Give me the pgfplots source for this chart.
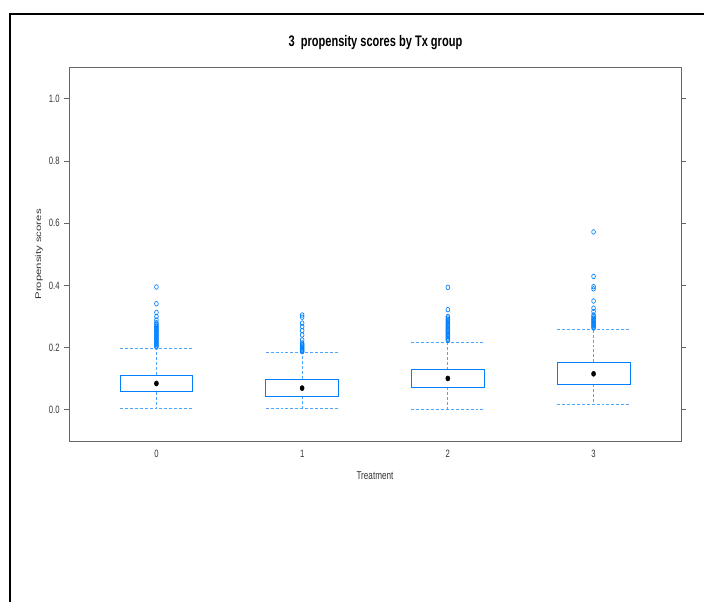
\documentclass[border=0pt]{standalone}
\usepackage{fontspec}
\setmainfont{Liberation Sans}[FakeStretch=0.72]
\newfontfamily\ylfont{Liberation Sans}
\usepackage{pgfplots}
\pgfplotsset{compat=1.18}
\usepgfplotslibrary{statistics}
\definecolor{boxblue}{HTML}{0080FF}
\definecolor{whisk}{HTML}{4DA6FF}
\definecolor{axgray}{HTML}{666666}
\definecolor{labgray}{HTML}{333333}

\begin{document}
\begin{tikzpicture}
\path[use as bounding box] (0,0) rectangle (528pt,-450.75pt);
% outer frame (only left and top edges are visible)
\draw[line width=2pt] (7.5pt,-460pt) -- (7.5pt,-10.5pt) -- (540pt,-10.5pt);
\node[anchor=base,font=\bfseries\fontsize{11.5}{13}\selectfont] at (281.6pt,-34.5pt) {3\ \ propensity scores by Tx group};

\begin{axis}[
  at={(51.75pt,-330.75pt)},anchor=south west,
  scale only axis,width=459pt,height=280pt,
  xmin=-0.6,xmax=3.6,ymin=-0.1,ymax=1.1,
  xtick={0,1,2,3},xticklabels={0,1,2,3},
  ytick={0,0.2,0.4,0.6,0.8,1.0},yticklabels={0.0,0.2,0.4,0.6,0.8,1.0},
  xtick style={draw=none},
  ytick pos=both,yticklabel pos=left,
  tick align=outside,major tick length=3.5pt,
  ytick style={axgray,line width=0.6pt},
  axis line style={axgray,line width=0.75pt},
  tick label style={font=\fontsize{8}{9}\selectfont,color=labgray},
  /pgf/number format/assume math mode=true,
  xticklabel style={anchor=base,yshift=-8.5pt},
  xlabel={Treatment},
  ylabel={\scalebox{1}[0.72]{\ylfont Propensity scores}},
  label style={font=\fontsize{8.5}{10}\selectfont,color=labgray},
  xlabel style={at={(axis description cs:0.5,-0.102)},anchor=base},
  ylabel style={at={(axis description cs:-0.049,0.5)},anchor=center},
  clip=false,
  boxplot/draw direction=y,
  boxplot/every box/.style={draw=boxblue,line width=0.7pt},
  boxplot/every whisker/.style={color=whisk,line width=0.6pt,dash pattern=on 2.2pt off 1.5pt},
  boxplot/every median/.style={draw=none},
  outl/.style={draw=boxblue,mark=o,mark size=1.75pt,
    mark options={xscale=0.8,line width=0.5pt,draw=boxblue}},
]
\addplot[outl,
  boxplot prepared={draw position=0,lower whisker=0.004,lower quartile=0.058,median=0.085,
    upper quartile=0.112,upper whisker=0.197,box extend=0.5,whisker extend=0.5}]
  coordinates {(0,0.395) (0,0.341) (0,0.313) (0,0.300) (0,0.289) (0,0.280) (0,0.275) (0,0.270)
    (0,0.266) (0,0.262) (0,0.258) (0,0.254) (0,0.250) (0,0.246) (0,0.242) (0,0.238) (0,0.234)
    (0,0.230) (0,0.226) (0,0.222) (0,0.218) (0,0.214) (0,0.210) (0,0.206) (0,0.202)};
\addplot[outl,
  boxplot prepared={draw position=1,lower whisker=0.006,lower quartile=0.043,median=0.070,
    upper quartile=0.099,upper whisker=0.184,box extend=0.5,whisker extend=0.5}]
  coordinates {(1,0.305) (1,0.298) (1,0.279) (1,0.268) (1,0.255) (1,0.241) (1,0.225)
    (1,0.215) (1,0.211) (1,0.208) (1,0.205) (1,0.202) (1,0.199) (1,0.196) (1,0.193)
    (1,0.190) (1,0.187)};
\addplot[outl,
  boxplot prepared={draw position=2,lower whisker=0.003,lower quartile=0.073,median=0.101,
    upper quartile=0.130,upper whisker=0.218,box extend=0.5,whisker extend=0.5}]
  coordinates {(2,0.394) (2,0.322) (2,0.300) (2,0.295) (2,0.291) (2,0.287) (2,0.283)
    (2,0.279) (2,0.275) (2,0.271) (2,0.267) (2,0.263) (2,0.259) (2,0.255) (2,0.251)
    (2,0.247) (2,0.243) (2,0.239) (2,0.235) (2,0.231) (2,0.227) (2,0.223)};
\addplot[outl,
  boxplot prepared={draw position=3,lower whisker=0.017,lower quartile=0.083,median=0.116,
    upper quartile=0.153,upper whisker=0.260,box extend=0.5,whisker extend=0.5}]
  coordinates {(3,0.572) (3,0.429) (3,0.396) (3,0.389) (3,0.350) (3,0.327) (3,0.316)
    (3,0.305) (3,0.300) (3,0.295) (3,0.291) (3,0.287) (3,0.283) (3,0.279) (3,0.275)
    (3,0.271) (3,0.267) (3,0.263)};
% medians as black dots
\addplot[only marks,mark=*,mark size=1.9pt,black,mark options={xscale=0.8}]
  coordinates {(0,0.085) (1,0.070) (2,0.101) (3,0.116)};
\end{axis}
\end{tikzpicture}
\end{document}
